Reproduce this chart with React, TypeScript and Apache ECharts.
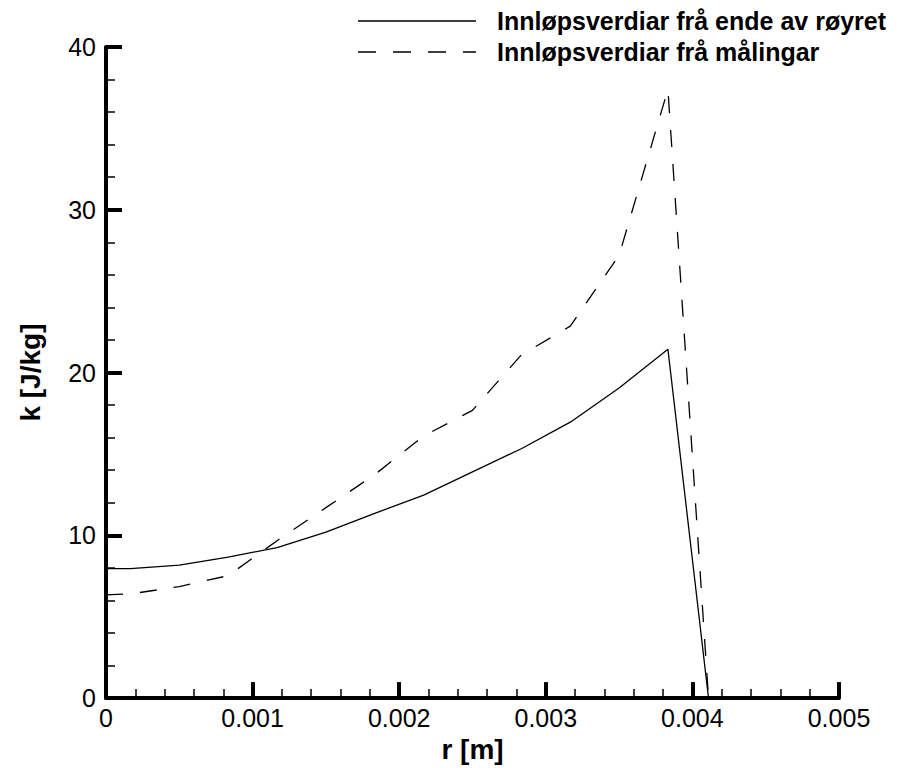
import React, { useEffect, useRef } from "react";
import * as echarts from "echarts";

// r [m]
const rValues = [0, 0.000167, 0.0005, 0.000833, 0.001167, 0.0015, 0.001833, 0.002167, 0.0025, 0.002833, 0.003167, 0.0035, 0.003833, 0.00411];
// k [J/kg]
const kEndOfPipe = [7.95, 7.95, 8.17, 8.66, 9.25, 10.2, 11.35, 12.47, 13.9, 15.32, 16.95, 19.05, 21.43, 0];
const kMeasured = [6.34, 6.4, 6.85, 7.52, 9.67, 11.7, 13.73, 16.1, 17.68, 21.08, 22.85, 27.2, 37.4, 0];

const seriesNames = ["Innløpsverdiar frå ende av røyret", "Innløpsverdiar frå målingar"];
const xTickLabels: Record<string, string> = { "0": "0", "0.001": "0.001", "0.002": "0.002", "0.003": "0.003", "0.004": "0.004", "0.005": "0.005" };

const FONT = "'Liberation Sans', Arial, Helvetica, sans-serif";

export default function App() {
  const ref = useRef<HTMLDivElement>(null);
  useEffect(() => {
    if (!ref.current) return;
    const chart = echarts.init(ref.current, null, { renderer: "svg" });
    const pairs = (ys: number[]) => rValues.map((r, i) => [r, ys[i]]);
    chart.setOption({
      animation: false,
      backgroundColor: "#ffffff",
      grid: { left: 106, right: 60, top: 47, bottom: 65 },
      xAxis: {
        type: "value",
        min: 0,
        max: 0.005,
        interval: 0.001,
        name: "r [m]",
        nameLocation: "middle",
        nameGap: 31,
        nameTextStyle: { fontFamily: FONT, fontSize: 28, fontWeight: "bold", color: "#000" },
        axisLine: { show: true, lineStyle: { color: "#000", width: 4 } },
        axisTick: { show: true, inside: true, length: 16, lineStyle: { color: "#000", width: 4 } },
        minorTick: { show: true, splitNumber: 5, length: 9, lineStyle: { color: "#000", width: 1.5 } },
        splitLine: { show: false },
        axisLabel: {
          fontFamily: FONT,
          fontSize: 25,
          color: "#000",
          margin: 7,
          formatter: (v: number) => {
            const key = String(Number(v.toFixed(4)));
            return xTickLabels[key] ?? key;
          },
        },
      },
      yAxis: {
        type: "value",
        min: 0,
        max: 40,
        interval: 10,
        name: "k [J/kg]",
        nameLocation: "middle",
        nameGap: 62,
        nameTextStyle: { fontFamily: FONT, fontSize: 28, fontWeight: "bold", color: "#000" },
        axisLine: { show: true, lineStyle: { color: "#000", width: 4 } },
        axisTick: { show: true, inside: true, length: 16, lineStyle: { color: "#000", width: 4 } },
        minorTick: { show: true, splitNumber: 5, length: 9, lineStyle: { color: "#000", width: 1.5 } },
        splitLine: { show: false },
        axisLabel: { fontFamily: FONT, fontSize: 25, color: "#000", margin: 10 },
      },
      series: [
        {
          name: seriesNames[0],
          type: "line",
          data: pairs(kEndOfPipe),
          symbol: "none",
          lineStyle: { color: "#000", width: 1.3, type: "solid" },
        },
        {
          name: seriesNames[1],
          type: "line",
          data: pairs(kMeasured),
          symbol: "none",
          lineStyle: { color: "#000", width: 1.3, type: [17, 17] },
        },
      ],
      graphic: [
        { type: "line", shape: { x1: 358, y1: 21, x2: 476, y2: 21 }, style: { stroke: "#000", lineWidth: 1.5 } },
        { type: "line", shape: { x1: 358, y1: 52, x2: 476, y2: 52 }, style: { stroke: "#000", lineWidth: 1.5, lineDash: [18, 17] } },
        {
          type: "text", x: 497, y: 21,
          style: { text: seriesNames[0], fontFamily: FONT, fontSize: 25, fontWeight: "bold", fill: "#000", verticalAlign: "middle" },
        },
        {
          type: "text", x: 497, y: 52,
          style: { text: seriesNames[1], fontFamily: FONT, fontSize: 25, fontWeight: "bold", fill: "#000", verticalAlign: "middle" },
        },
      ],
    });
    return () => chart.dispose();
  }, []);
  return <div ref={ref} style={{ position: "absolute", left: 0, top: 0, width: 899, height: 768 }} />;
}
